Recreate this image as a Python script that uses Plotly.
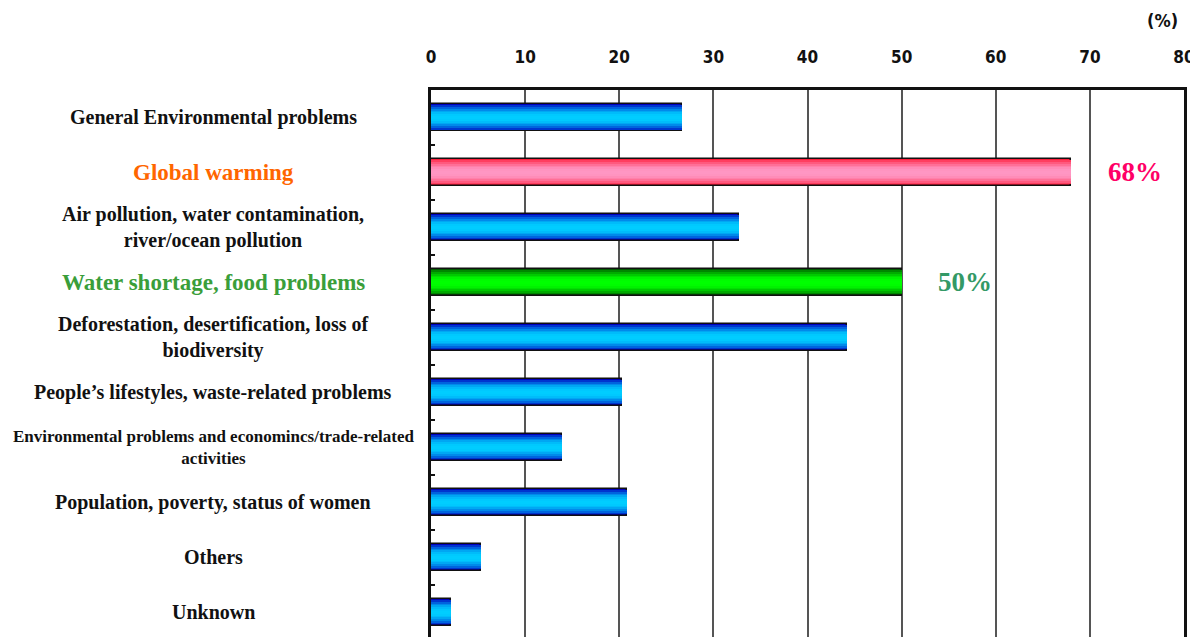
import plotly.graph_objects as go

categories = [
    "General Environmental problems",
    "Global warming",
    "Air pollution, water contamination,<br>river/ocean pollution",
    "Water shortage, food problems",
    "Deforestation, desertification, loss of<br>biodiversity",
    "People’s lifestyles, waste-related problems",
    "Environmental problems and economincs/trade-related<br>activities",
    "Population, poverty, status of women",
    "Others",
    "Unknown",
]
values = [26.7, 68.0, 32.7, 50.0, 44.2, 20.3, 13.9, 20.8, 5.3, 2.1]
x_ticks = [0, 10, 20, 30, 40, 50, 60, 70, 80]
pct_labels = {1: ("68%", "#ff0066"), 3: ("50%", "#339966")}
label_colors = ["#111111", "#ff6600", "#111111", "#3a9e3a", "#111111",
                "#111111", "#111111", "#111111", "#111111", "#111111"]
label_sizes = [20, 23, 20, 23, 20, 20, 17, 20, 20, 20]

# gradient end colours per category: (edge, center)
blue = ((0, 0, 190), (0, 205, 255))
pink = ((255, 30, 60), (255, 150, 195))
green = ((0, 90, 0), (0, 255, 0))
grads = [blue, pink, blue, green, blue, blue, blue, blue, blue, blue]

ypos = list(range(len(categories)))

fig = go.Figure()
n_layers = 8
full_w = 0.5
for k in range(n_layers):
    t = k / (n_layers - 1)
    t_c = 1 - (1 - t) ** 2
    w = full_w * (1 - k / n_layers)
    cols = []
    for e, c in grads:
        rgb = [round(e[i] + (c[i] - e[i]) * t_c) for i in range(3)]
        cols.append("rgb(%d,%d,%d)" % tuple(rgb))
    fig.add_trace(go.Bar(
        x=values, y=ypos, orientation="h", width=w,
        marker=dict(color=cols,
                    line=dict(color="#111111", width=1.5 if k == 0 else 0)),
        showlegend=False, hoverinfo="skip" if k else None,
    ))

for i, lab in enumerate(categories):
    fig.add_annotation(x=-0.2895, xref="paper", y=ypos[i], yref="y",
                       text=lab, showarrow=False, xanchor="center", yanchor="middle",
                       align="center",
                       font=dict(family="Liberation Serif", size=label_sizes[i],
                                 color=label_colors[i], weight="bold"))

for i, (txt, col) in pct_labels.items():
    fig.add_annotation(x=values[i] + 3.7, y=ypos[i], xref="x", yref="y",
                       text=txt, showarrow=False, xanchor="left", yanchor="middle",
                       font=dict(family="Liberation Serif", size=27, color=col, weight="bold"))

fig.add_annotation(x=1.0, xref="paper", y=1.0, yref="paper", yshift=70, xshift=-4,
                   text="(%)", showarrow=False, xanchor="right", yanchor="middle",
                   font=dict(family="DejaVu Sans Condensed, Liberation Sans Narrow, DejaVu Sans",
                             size=18, color="#111111", weight="bold"))

fig.update_layout(
    width=1190, height=629,
    margin=dict(l=423, r=14, t=82, b=0, autoexpand=False),
    plot_bgcolor="white", paper_bgcolor="white",
    barmode="overlay", bargap=0,
)
fig.update_xaxes(
    range=[0, 80], side="top", tickvals=x_ticks, ticktext=[str(v) for v in x_ticks],
    showgrid=True, gridcolor="#555555", gridwidth=1.5, automargin=False,
    showline=True, linecolor="#111111", linewidth=2.5, mirror=False,
    ticks="", ticklabelstandoff=17, zeroline=False,
    tickfont=dict(family="DejaVu Sans Condensed, Liberation Sans Narrow, DejaVu Sans",
                  size=17, color="#111111", weight="bold"),
)
fig.update_yaxes(
    range=[9.45, -0.5], tickvals=[y + 0.5 for y in ypos], showticklabels=False,
    ticks="inside", ticklen=4, tickwidth=1.5, tickcolor="#111111", automargin=False,
    showgrid=False, showline=True, linecolor="#111111", linewidth=2.5, mirror=True,
    zeroline=False,
)

fig.write_html("out.html")
